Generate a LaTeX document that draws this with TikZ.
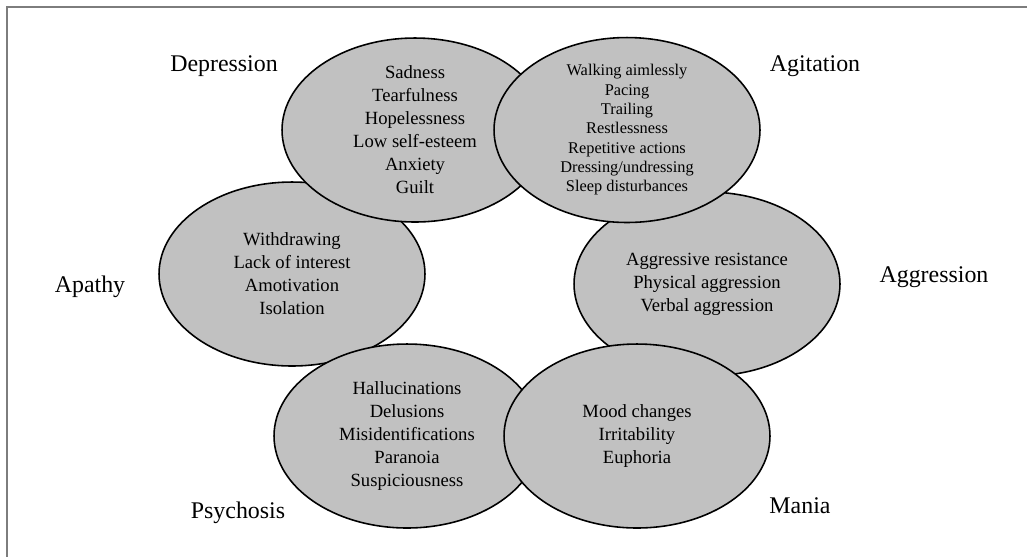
\documentclass[tikz,border=0pt]{standalone}
\usepackage{fontspec}
\setmainfont{Liberation Serif}
\usepackage{xcolor}
\usetikzlibrary{shapes.geometric}
\definecolor{blobgray}{RGB}{193,193,193}
\definecolor{framegray}{RGB}{125,125,125}

\begin{document}
\begin{tikzpicture}[x = 0.02cm, y = -0.02cm,
		blob/.style = {ellipse, draw = black, line width = 0.9pt, fill = blobgray, inner sep = 0pt,
			minimum width = 5.32cm, minimum height = 3.68cm, align = center,
			font = \fontsize{10.6}{13.1}\selectfont},
		dense/.style = {font = \fontsize{9.3}{11}\selectfont},
		group/.style = {font = \fontsize{13.6}{16}\selectfont}]
		\useasboundingbox (0,0) rectangle (1027,556);
		
		\draw [framegray, line width = 0.9pt] (7,570) -- (7,7) -- (1040,7);
		
		% order matters: later ellipses lie on top
		\node [blob] (apathy) at (292,274) {Withdrawing\\Lack of interest\\Amotivation\\Isolation};
		\node [blob] (depression) at (415,130) {Sadness\\Tearfulness\\Hopelessness\\Low self-esteem\\Anxiety\\Guilt};
		\node [blob] (aggression) at (707,284) {Aggressive resistance\\Physical aggression\\Verbal aggression};
		\node [blob, dense] (agitation) at (627,130) {Walking aimlessly\\Pacing\\Trailing\\Restlessness\\Repetitive actions\\Dressing/undressing\\Sleep disturbances};
		\node [blob] (psychosis) at (407,436) {Hallucinations\\Delusions\\Misidentifications\\Paranoia\\Suspiciousness};
		\node [blob] (mania) at (637,436) {Mood changes\\Irritability\\Euphoria};
		
		\node [group] (depressionlabel) at (224,66) {Depression};
		\node [group] (agitationlabel) at (815,66) {Agitation};
		\node [group] (aggressionlabel) at (934,277) {Aggression};
		\node [group] (apathylabel) at (90,287) {Apathy};
		\node [group] (psychosislabel) at (238,513) {Psychosis};
		\node [group] (manialabel) at (800,506) {Mania};
	\end{tikzpicture}
\end{document}
